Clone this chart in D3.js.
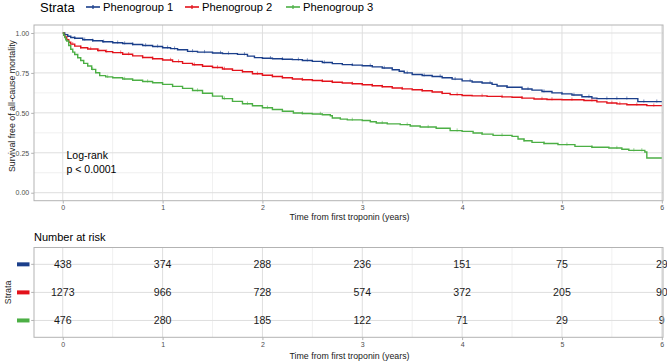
<!DOCTYPE html>
<html>
<head>
<meta charset="utf-8">
<script src="https://cdn.jsdelivr.net/npm/d3@7"></script>
<style>
  body { margin: 0; background: #fff; }
  svg text { font-family: "Liberation Sans", Arial, sans-serif; }
</style>
</head>
<body>
<div id="chart"></div>
<script>
// strata
const groups = ["Phenogroup 1", "Phenogroup 2", "Phenogroup 3"];
const groupColors = ["#1b3f8b", "#e3121b", "#4caf45"];

// Kaplan-Meier steps (time in years, survival)
const times1 = [0, 0.02, 0.05, 0.08, 0.12, 0.2, 0.3, 0.4, 0.5, 0.6, 0.7, 0.8, 0.9, 1.0, 1.08, 1.15, 1.25, 1.35, 1.5, 1.6, 1.75, 1.85, 1.92, 2.0, 2.1, 2.2, 2.3, 2.4, 2.5, 2.6, 2.7, 2.8, 2.9, 3.0, 3.1, 3.2, 3.3, 3.37, 3.42, 3.5, 3.6, 3.7, 3.8, 3.9, 4.0, 4.1, 4.2, 4.3, 4.35, 4.45, 4.6, 4.7, 4.8, 4.9, 5.0, 5.1, 5.2, 5.3, 5.35, 5.76, 6.0];
const surv1 = [1.0, 0.99, 0.98, 0.972, 0.967, 0.958, 0.951, 0.945, 0.939, 0.934, 0.928, 0.922, 0.915, 0.908, 0.902, 0.895, 0.885, 0.88, 0.875, 0.871, 0.866, 0.855, 0.846, 0.842, 0.839, 0.836, 0.833, 0.828, 0.822, 0.815, 0.808, 0.802, 0.799, 0.795, 0.788, 0.781, 0.77, 0.76, 0.75, 0.74, 0.734, 0.728, 0.72, 0.711, 0.7, 0.693, 0.687, 0.678, 0.668, 0.66, 0.649, 0.642, 0.634, 0.625, 0.619, 0.612, 0.601, 0.592, 0.589, 0.57, 0.57];

const times2 = [0, 0.01, 0.02, 0.04, 0.06, 0.08, 0.12, 0.18, 0.25, 0.35, 0.43, 0.5, 0.6, 0.7, 0.8, 0.9, 1.0, 1.1, 1.2, 1.3, 1.4, 1.5, 1.6, 1.7, 1.8, 1.9, 2.0, 2.1, 2.2, 2.3, 2.4, 2.5, 2.6, 2.7, 2.8, 2.9, 3.0, 3.1, 3.2, 3.3, 3.4, 3.5, 3.6, 3.7, 3.8, 3.88, 4.0, 4.1, 4.25, 4.4, 4.5, 4.6, 4.72, 4.85, 5.0, 5.22, 5.35, 5.45, 5.55, 5.65, 5.85, 6.0];
const surv2 = [1.0, 0.985, 0.975, 0.958, 0.942, 0.93, 0.918, 0.908, 0.9, 0.89, 0.883, 0.877, 0.867, 0.857, 0.847, 0.839, 0.831, 0.821, 0.81, 0.801, 0.792, 0.784, 0.775, 0.766, 0.757, 0.745, 0.735, 0.728, 0.72, 0.712, 0.707, 0.703, 0.698, 0.692, 0.687, 0.682, 0.676, 0.67, 0.663, 0.656, 0.65, 0.645, 0.638, 0.631, 0.622, 0.614, 0.609, 0.606, 0.603, 0.6, 0.598, 0.592, 0.587, 0.584, 0.582, 0.577, 0.569, 0.562, 0.556, 0.551, 0.545, 0.545];

const times3 = [0, 0.01, 0.02, 0.03, 0.04, 0.06, 0.08, 0.1, 0.12, 0.15, 0.18, 0.21, 0.25, 0.29, 0.33, 0.37, 0.43, 0.5, 0.6, 0.7, 0.8, 0.9, 1.0, 1.1, 1.2, 1.3, 1.4, 1.5, 1.6, 1.7, 1.8, 1.9, 2.0, 2.1, 2.2, 2.31, 2.4, 2.5, 2.6, 2.68, 2.7, 2.78, 2.85, 3.0, 3.08, 3.14, 3.25, 3.38, 3.48, 3.58, 3.74, 3.88, 4.0, 4.11, 4.2, 4.31, 4.5, 4.56, 4.62, 4.7, 4.82, 4.96, 5.13, 5.3, 5.47, 5.6, 5.67, 5.83, 5.85, 6.0];
const surv3 = [1.0, 0.985, 0.972, 0.958, 0.95, 0.922, 0.898, 0.88, 0.865, 0.845, 0.828, 0.81, 0.793, 0.772, 0.751, 0.733, 0.725, 0.72, 0.712, 0.704, 0.696, 0.688, 0.678, 0.666, 0.653, 0.64, 0.623, 0.605, 0.589, 0.572, 0.557, 0.544, 0.532, 0.521, 0.51, 0.499, 0.496, 0.493, 0.488, 0.482, 0.468, 0.461, 0.456, 0.452, 0.444, 0.436, 0.431, 0.426, 0.418, 0.411, 0.404, 0.389, 0.384, 0.374, 0.367, 0.359, 0.353, 0.336, 0.325, 0.315, 0.308, 0.301, 0.29, 0.285, 0.28, 0.272, 0.265, 0.255, 0.217, 0.217];

// censoring marks (times)
const censor1 = [0.12, 0.22, 0.3, 0.41, 0.55, 0.62, 0.7, 0.83, 0.95, 1.05, 1.12, 1.3, 1.42, 1.58, 1.66, 1.82, 2.08, 2.2, 2.36, 2.45, 2.62, 2.9, 3.08, 3.22, 3.45, 3.62, 3.78, 3.93, 4.08, 4.28, 4.45, 4.66, 4.82, 5.0, 5.12, 5.27, 5.45, 5.55, 5.65, 5.82, 5.95];
const censor2 = [0.1, 0.18, 0.28, 0.36, 0.44, 0.58, 0.66, 0.8, 0.9, 1.08, 1.16, 1.32, 1.4, 1.55, 1.62, 1.8, 1.95, 2.1, 2.2, 2.4, 2.6, 2.7, 2.9, 3.1, 3.2, 3.4, 3.6, 3.8, 3.95, 4.2, 4.4, 4.6, 4.8, 4.9, 5.1, 5.3, 5.5, 5.58, 5.75, 5.92];
const censor3 = [0.3, 0.45, 0.62, 0.85, 1.1, 1.35, 1.62, 1.85, 2.05, 2.4, 2.58, 2.9, 3.2, 3.45, 3.66, 3.95, 4.2, 4.4, 4.62, 4.82, 5.05, 5.3, 5.55, 5.72, 5.8];

// x axis ticks
const xTicks = [0, 1, 2, 3, 4, 5, 6];
const yTicks = [0, 0.25, 0.5, 0.75, 1];

// number at risk (rows = strata, columns = xTicks)
const risk1 = [438, 374, 288, 236, 151, 75, 29];
const risk2 = [1273, 966, 728, 574, 372, 205, 90];
const risk3 = [476, 280, 185, 122, 71, 29, 9];

class SurvivalVis {

    constructor(parentElement) {
        this.parentElement = parentElement;
        this.series = [
            { name: groups[0], color: groupColors[0], t: times1, s: surv1, censor: censor1, risk: risk1 },
            { name: groups[1], color: groupColors[1], t: times2, s: surv2, censor: censor2, risk: risk2 },
            { name: groups[2], color: groupColors[2], t: times3, s: surv3, censor: censor3, risk: risk3 }
        ];
        this.initVis();
    }

    initVis() {
        let vis = this;

        vis.width = 669;
        vis.height = 364;

        vis.svg = d3.select("#" + vis.parentElement).append("svg")
            .attr("width", vis.width)
            .attr("height", vis.height);

        // shared x scale for both panels
        vis.panelLeft = 34;
        vis.panelRight = 663;
        vis.x = d3.scaleLinear()
            .domain([-0.288, 6.012])
            .range([vis.panelLeft, vis.panelRight]);

        // survival panel
        vis.top = { y0: 25, y1: 200.7 };
        vis.y = d3.scaleLinear()
            .domain([-0.05, 1.05])
            .range([vis.top.y1, vis.top.y0]);

        // risk table panel
        vis.tab = { y0: 247.5, y1: 337.3 };
        vis.yRow = d3.scaleLinear()
            .domain([0.4, 3.6])
            .range([vis.tab.y0, vis.tab.y1]);

        vis.drawLegend();
        vis.drawSurvival();
        vis.drawTable();
    }

    drawLegend() {
        let vis = this;
        let g = vis.svg.append("g");

        g.append("text")
            .attr("x", 40).attr("y", 11.5)
            .attr("font-size", 13)
            .attr("fill", "#000")
            .text("Strata");

        let keyX = [86, 185, 286];
        vis.series.forEach((d, i) => {
            let k = g.append("g").attr("transform", `translate(${keyX[i]},7)`);
            k.append("line")
                .attr("x1", 0).attr("x2", 14)
                .attr("stroke", d.color).attr("stroke-width", 1.6);
            k.append("line")
                .attr("x1", 7).attr("x2", 7).attr("y1", -2).attr("y2", 2)
                .attr("stroke", d.color).attr("stroke-width", 1.2);
            k.append("text")
                .attr("x", 17).attr("y", 4.2)
                .attr("font-size", 11.2)
                .attr("fill", "#000")
                .text(d.name);
        });
    }

    drawGrid(g, y0, y1, yLines) {
        let vis = this;
        let minorX = d3.range(0, 6, 1).map(v => v + 0.5);

        g.selectAll(".minorx").data(minorX).enter().append("line")
            .attr("x1", d => vis.x(d)).attr("x2", d => vis.x(d))
            .attr("y1", y0).attr("y2", y1)
            .attr("stroke", "#ececec").attr("stroke-width", 0.8);
        g.selectAll(".majorx").data(xTicks).enter().append("line")
            .attr("x1", d => vis.x(d)).attr("x2", d => vis.x(d))
            .attr("y1", y0).attr("y2", y1)
            .attr("stroke", "#dedede").attr("stroke-width", 1);
        g.selectAll(".hline").data(yLines).enter().append("line")
            .attr("x1", vis.panelLeft).attr("x2", vis.panelRight)
            .attr("y1", d => d.y).attr("y2", d => d.y)
            .attr("stroke", d => d.minor ? "#ececec" : "#dedede")
            .attr("stroke-width", d => d.minor ? 0.8 : 1);
    }

    drawXAxis(y1, titleY) {
        let vis = this;
        let axis = d3.axisBottom(vis.x)
            .tickValues(xTicks)
            .tickFormat(d3.format("d"))
            .tickSize(2.8)
            .tickPadding(2);
        let g = vis.svg.append("g")
            .attr("transform", `translate(0,${y1})`)
            .call(axis);
        g.select(".domain").remove();
        g.selectAll(".tick line").attr("stroke", "#b3b3b3");
        g.selectAll(".tick text")
            .attr("font-size", 7)
            .attr("fill", "#4d4d4d")
            .attr("font-family", "Liberation Sans, Arial, sans-serif");

        vis.svg.append("text")
            .attr("x", (vis.panelLeft + vis.panelRight) / 2 + 1)
            .attr("y", titleY)
            .attr("text-anchor", "middle")
            .attr("font-size", 8.8)
            .attr("fill", "#1a1a1a")
            .text("Time from first troponin (years)");
    }

    stepValue(d, t) {
        let idx = d3.bisectRight(d.t, t) - 1;
        return d.s[Math.max(0, idx)];
    }

    drawSurvival() {
        let vis = this;
        let g = vis.svg.append("g");

        let yLines = [];
        d3.range(0, 1.01, 0.125).forEach(v => {
            yLines.push({ y: vis.y(v), minor: Math.round(v * 8) % 2 === 1 });
        });
        vis.drawGrid(g, vis.top.y0, vis.top.y1, yLines);

        // curves
        let line = d3.line()
            .x(p => vis.x(p[0]))
            .y(p => vis.y(p[1]))
            .curve(d3.curveStepAfter);

        vis.series.forEach(d => {
            let pts = d.t.map((t, i) => [t, d.s[i]]);
            g.append("path")
                .datum(pts)
                .attr("fill", "none")
                .attr("stroke", d.color)
                .attr("stroke-width", 1.4)
                .attr("d", line);

            g.selectAll(null).data(d.censor).enter().append("line")
                .attr("x1", c => vis.x(c)).attr("x2", c => vis.x(c))
                .attr("y1", c => vis.y(vis.stepValue(d, c)) - 2.2)
                .attr("y2", c => vis.y(vis.stepValue(d, c)) + 1)
                .attr("stroke", d.color)
                .attr("stroke-opacity", 0.6)
                .attr("stroke-width", 0.9);
        });

        // panel border
        g.append("rect")
            .attr("x", vis.panelLeft).attr("y", vis.top.y0)
            .attr("width", vis.panelRight - vis.panelLeft)
            .attr("height", vis.top.y1 - vis.top.y0)
            .attr("fill", "none")
            .attr("stroke", "#b3b3b3").attr("stroke-width", 1);

        // y axis
        let yAxis = d3.axisLeft(vis.y)
            .tickValues(yTicks)
            .tickFormat(d3.format(".2f"))
            .tickSize(2.8)
            .tickPadding(2);
        let ga = vis.svg.append("g")
            .attr("transform", `translate(${vis.panelLeft},0)`)
            .call(yAxis);
        ga.select(".domain").remove();
        ga.selectAll(".tick line").attr("stroke", "#b3b3b3");
        ga.selectAll(".tick text")
            .attr("font-size", 7)
            .attr("fill", "#4d4d4d")
            .attr("font-family", "Liberation Sans, Arial, sans-serif");

        vis.svg.append("text")
            .attr("transform", "translate(11.5,106) rotate(-90)")
            .attr("text-anchor", "middle")
            .attr("dominant-baseline", "central")
            .attr("font-size", 8.8)
            .attr("fill", "#1a1a1a")
            .text("Survival free of all-cause mortality");

        vis.drawXAxis(vis.top.y1, 219.5);

        // log-rank annotation
        vis.svg.append("text")
            .attr("x", 66.5).attr("y", 158.8)
            .attr("font-size", 10.5)
            .attr("fill", "#000")
            .text("Log-rank");
        vis.svg.append("text")
            .attr("x", 66.5).attr("y", 173)
            .attr("font-size", 10.5)
            .attr("fill", "#000")
            .text("p < 0.0001");
    }

    drawTable() {
        let vis = this;

        vis.svg.append("text")
            .attr("x", 34).attr("y", 240.5)
            .attr("font-size", 11)
            .attr("fill", "#000")
            .text("Number at risk");

        let g = vis.svg.append("g");
        let yLines = [1, 2, 3].map(r => ({ y: vis.yRow(r), minor: false }));
        vis.drawGrid(g, vis.tab.y0, vis.tab.y1, yLines);

        vis.svg.append("defs").append("clipPath")
            .attr("id", "tabclip")
            .append("rect")
            .attr("x", 0).attr("y", 0)
            .attr("width", 667).attr("height", vis.height);

        let gt = g.append("g").attr("clip-path", "url(#tabclip)");
        vis.series.forEach((d, i) => {
            gt.selectAll(null).data(d.risk).enter().append("text")
                .attr("x", (v, j) => vis.x(xTicks[j]))
                .attr("y", vis.yRow(i + 1))
                .attr("text-anchor", "middle")
                .attr("dominant-baseline", "central")
                .attr("font-size", 10.6)
                .attr("fill", "#1a1a1a")
                .text(v => v);

            // colour key instead of y labels
            vis.svg.append("rect")
                .attr("x", 17).attr("y", vis.yRow(i + 1) - 2)
                .attr("width", 12.5).attr("height", 4)
                .attr("fill", d.color);
            vis.svg.append("line")
                .attr("x1", 31.2).attr("x2", vis.panelLeft)
                .attr("y1", vis.yRow(i + 1)).attr("y2", vis.yRow(i + 1))
                .attr("stroke", "#b3b3b3");
        });

        g.append("rect")
            .attr("x", vis.panelLeft).attr("y", vis.tab.y0)
            .attr("width", vis.panelRight - vis.panelLeft)
            .attr("height", vis.tab.y1 - vis.tab.y0)
            .attr("fill", "none")
            .attr("stroke", "#b3b3b3").attr("stroke-width", 1);

        vis.svg.append("text")
            .attr("transform", `translate(8,${vis.yRow(2)}) rotate(-90)`)
            .attr("text-anchor", "middle")
            .attr("dominant-baseline", "central")
            .attr("font-size", 8.8)
            .attr("fill", "#1a1a1a")
            .text("Strata");

        vis.drawXAxis(vis.tab.y1, 359);
    }
}

new SurvivalVis("chart");
</script>
</body>
</html>
